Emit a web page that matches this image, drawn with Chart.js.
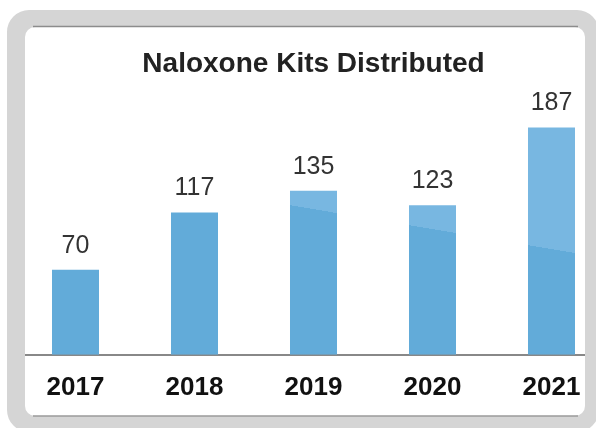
<!DOCTYPE html>
<html>
<head>
<meta charset="utf-8">
<script src="https://cdn.jsdelivr.net/npm/chart.js@4/dist/chart.umd.min.js"></script>
<style>
  html, body { margin: 0; padding: 0; background: #fff; overflow: hidden; }
  #wrap { position: absolute; left: 0; top: 0; width: 620px; height: 428px; }
</style>
</head>
<body>
<div id="wrap"><canvas id="kitsChart" width="620" height="428"></canvas></div>
<script>
// данные графика
const years = ['2017', '2018', '2019', '2020', '2021'];
const kits = [70, 117, 135, 123, 187];
const chartTitle = 'Naloxone Kits Distributed';

const FONT = '"Liberation Sans", Arial, sans-serif';
const barBase = '#62abd9';
const barLight = '#78b7e1';

// рамка карточки: белый фон до, серое кольцо после
function roundRect(ctx, x, y, w, h, r) {
    ctx.moveTo(x + r, y);
    ctx.arcTo(x + w, y, x + w, y + h, r);
    ctx.arcTo(x + w, y + h, x, y + h, r);
    ctx.arcTo(x, y + h, x, y, r);
    ctx.arcTo(x, y, x + w, y, r);
    ctx.closePath();
}

const framePlugin = {
    id: 'frame',
    beforeDraw(chart) {
        const ctx = chart.ctx;
        ctx.save();
        ctx.fillStyle = '#fff';
        ctx.fillRect(0, 0, chart.width, chart.height);
        ctx.restore();
    },
    afterDraw(chart) {
        const ctx = chart.ctx;
        ctx.save();
        ctx.beginPath();
        roundRect(ctx, 7, 10, 592, 422, 22);
        roundRect(ctx, 25, 27, 560, 389, 10);
        ctx.fillStyle = '#d5d5d5';
        ctx.fill('evenodd');
        // тёмные кромки сверху и снизу
        ctx.strokeStyle = '#8c8c8c';
        ctx.lineWidth = 1.5;
        ctx.beginPath();
        ctx.moveTo(33, 26.5);
        ctx.lineTo(578, 26.5);
        ctx.stroke();
        ctx.strokeStyle = '#9a9a9a';
        ctx.beginPath();
        ctx.moveTo(33, 416);
        ctx.lineTo(578, 416);
        ctx.stroke();
        ctx.restore();
    }
};

// подписи значений над столбцами
const valueLabels = {
    id: 'valueLabels',
    afterDatasetsDraw(chart) {
        const ctx = chart.ctx;
        const meta = chart.getDatasetMeta(0);
        ctx.save();
        ctx.font = '25px ' + FONT;
        ctx.fillStyle = '#333';
        ctx.textAlign = 'center';
        ctx.textBaseline = 'middle';
        meta.data.forEach((bar, i) => {
            ctx.fillText(String(chart.data.datasets[0].data[i]), bar.x, bar.y - 24);
        });
        ctx.restore();
    }
};

// глянцевый блик: диагональная граница через всю область
function barFill(context) {
    const ctx = context.chart.ctx;
    const g = ctx.createLinearGradient(465, 32, 399, 426);
    g.addColorStop(0, barLight);
    g.addColorStop(0.5, barLight);
    g.addColorStop(0.5, barBase);
    g.addColorStop(1, barBase);
    return g;
}

new Chart(document.getElementById('kitsChart'), {
    type: 'bar',
    data: {
        labels: years,
        datasets: [{
            data: kits,
            backgroundColor: barFill,
            borderWidth: 0,
            barPercentage: 0.79,
            categoryPercentage: 0.5
        }]
    },
    options: {
        responsive: false,
        animation: false,
        events: [],
        layout: { padding: { left: 16, right: 9, top: 0, bottom: 8 } },
        scales: {
            x: {
                grid: { display: false, drawTicks: false },
                border: { display: true, color: '#888', width: 2 },
                ticks: {
                    color: '#111',
                    padding: 17,
                    font: { family: FONT, size: 26, weight: 'bold' }
                }
            },
            y: {
                display: false,
                min: 0,
                max: 200
            }
        },
        plugins: {
            legend: { display: false },
            tooltip: { enabled: false },
            title: {
                display: true,
                text: chartTitle,
                color: '#222',
                font: { family: FONT, size: 28, weight: 'bold' },
                padding: { top: 47, bottom: 31 }
            }
        }
    },
    plugins: [framePlugin, valueLabels]
});
</script>
</body>
</html>
